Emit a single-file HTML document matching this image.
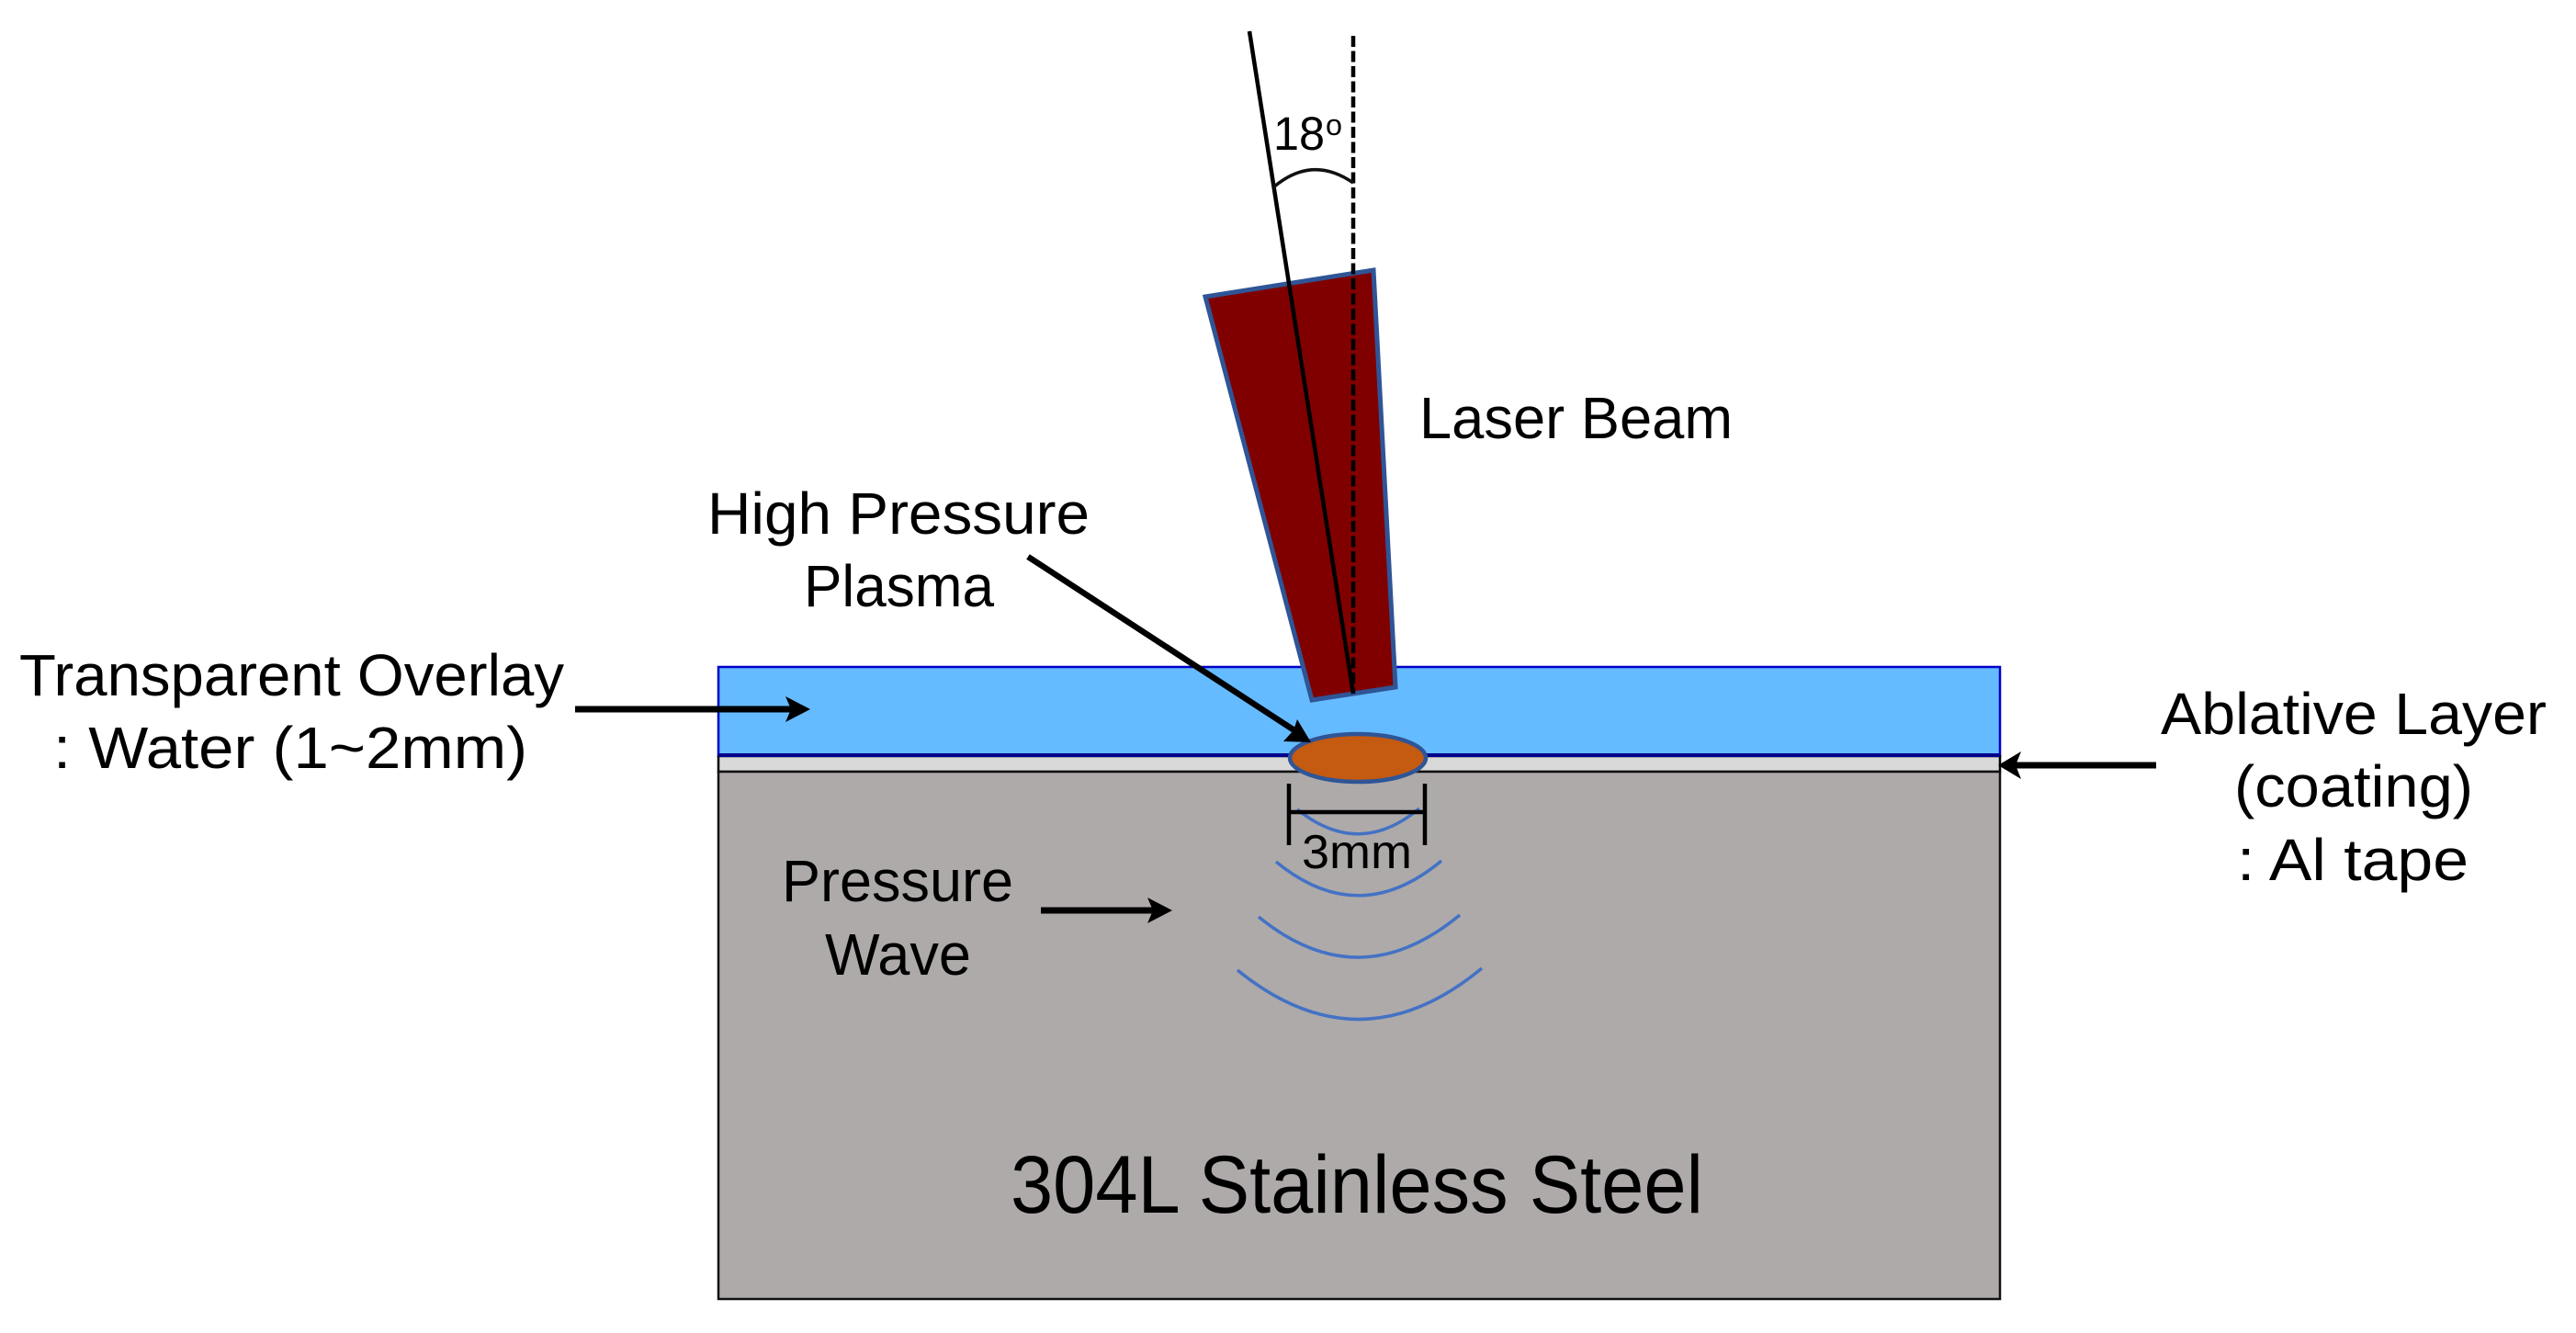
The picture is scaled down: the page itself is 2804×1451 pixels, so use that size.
<!DOCTYPE html>
<html>
<head>
<meta charset="utf-8">
<style>
html,body{margin:0;padding:0;background:#fff;}
svg{display:block;}
text{font-family:"Liberation Sans",sans-serif;fill:#000;}
</style>
</head>
<body>
<svg width="2804" height="1451" viewBox="0 0 2804 1451" xmlns="http://www.w3.org/2000/svg">
<rect x="0" y="0" width="2804" height="1451" fill="#fff"/>
<!-- layers -->
<rect x="782" y="726" width="1395" height="97" fill="#65bbff" stroke="#0000c8" stroke-width="2.5"/>
<rect x="782" y="823" width="1395" height="17" fill="#d9d9d9" stroke="#000" stroke-width="2.5"/>
<rect x="782" y="840" width="1395" height="574" fill="#aeaaaa" stroke="#111" stroke-width="2.5"/>
<line x1="782" y1="822" x2="2177" y2="822" stroke="#00008c" stroke-width="4"/>
<!-- beam -->
<polygon points="1312,323 1495,294 1519,748 1428,762" fill="#800000" stroke="#2f5597" stroke-width="5"/>
<line x1="1473" y1="39" x2="1473" y2="755" stroke="#000" stroke-width="4.5" stroke-dasharray="12 4.5"/>
<line x1="1360" y1="34" x2="1473" y2="755" stroke="#000" stroke-width="4.5"/>
<path d="M1386,204 Q1428,168 1473,199" fill="none" stroke="#111" stroke-width="3.5"/>
<!-- plasma -->
<ellipse cx="1478" cy="825" rx="74" ry="26" fill="#c55a11" stroke="#2f5597" stroke-width="4.5"/>
<!-- pressure waves -->
<path d="M1412,881 Q1479,935 1545,880" fill="none" stroke="#4472c4" stroke-width="3.5"/>
<path d="M1389,938 Q1479,1012 1569,937" fill="none" stroke="#4472c4" stroke-width="3.5"/>
<path d="M1370,998 Q1479,1087 1589,996" fill="none" stroke="#4472c4" stroke-width="3.5"/>
<path d="M1347,1056 Q1480,1164 1613,1054" fill="none" stroke="#4472c4" stroke-width="3.5"/>
<!-- dimension -->
<line x1="1403" y1="853" x2="1403" y2="920" stroke="#000" stroke-width="4.5"/>
<line x1="1551" y1="853" x2="1551" y2="920" stroke="#000" stroke-width="4.5"/>
<line x1="1403" y1="884" x2="1551" y2="884" stroke="#000" stroke-width="4.5"/>
<!-- arrows -->
<line x1="1119" y1="606" x2="1412" y2="797" stroke="#000" stroke-width="6.5"/>
<polygon points="1427,808 1397,807 1408,795 1412,783" fill="#000"/>
<line x1="626" y1="772" x2="870" y2="772" stroke="#000" stroke-width="7"/>
<polygon points="882,772 855,758 861,772 855,786" fill="#000"/>
<line x1="1133" y1="991" x2="1262" y2="991" stroke="#000" stroke-width="7"/>
<polygon points="1276,991 1249,977 1255,991 1249,1005" fill="#000"/>
<line x1="2347" y1="833" x2="2188" y2="833" stroke="#000" stroke-width="7"/>
<polygon points="2175,833 2200,818 2194,833 2200,848" fill="#000"/>
<!-- labels -->
<text x="1386" y="163" font-size="51" textLength="56" lengthAdjust="spacingAndGlyphs">18</text>
<text x="1443" y="147" font-size="32" textLength="18" lengthAdjust="spacingAndGlyphs">o</text>
<text x="1545" y="477" font-size="64" textLength="341" lengthAdjust="spacingAndGlyphs">Laser Beam</text>
<text x="770" y="581" font-size="64" textLength="416" lengthAdjust="spacingAndGlyphs">High Pressure</text>
<text x="875" y="660" font-size="64" textLength="207" lengthAdjust="spacingAndGlyphs">Plasma</text>
<text x="21" y="757" font-size="64" textLength="593" lengthAdjust="spacingAndGlyphs">Transparent Overlay</text>
<text x="58" y="836" font-size="64" textLength="516" lengthAdjust="spacingAndGlyphs">: Water (1~2mm)</text>
<text x="851" y="981" font-size="64" textLength="252" lengthAdjust="spacingAndGlyphs">Pressure</text>
<text x="898" y="1061" font-size="64" textLength="159" lengthAdjust="spacingAndGlyphs">Wave</text>
<text x="2352" y="799" font-size="64" textLength="420" lengthAdjust="spacingAndGlyphs">Ablative Layer</text>
<text x="2432" y="878" font-size="64" textLength="260" lengthAdjust="spacingAndGlyphs">(coating)</text>
<text x="2435" y="958" font-size="64" textLength="252" lengthAdjust="spacingAndGlyphs">: Al tape</text>
<text x="1417" y="945" font-size="52" textLength="120" lengthAdjust="spacingAndGlyphs">3mm</text>
<text x="1100" y="1320" font-size="89" textLength="754" lengthAdjust="spacingAndGlyphs">304L Stainless Steel</text>
</svg>
</body>
</html>
